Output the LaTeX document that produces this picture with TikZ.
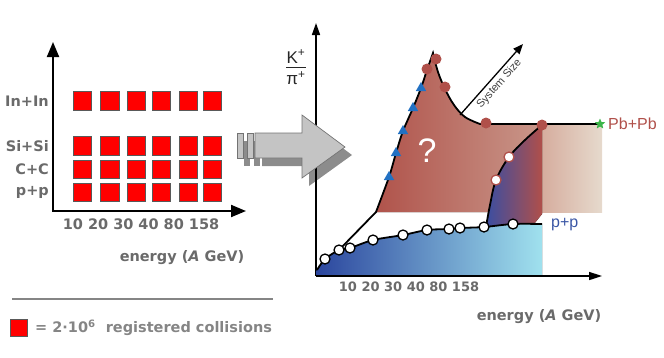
\documentclass[tikz,border=0pt]{standalone}
\usepackage{fontspec}
\setmainfont{DejaVu Sans}
\newfontfamily\lsans{Liberation Sans}
\usetikzlibrary{arrows.meta,shapes.geometric}
\definecolor{sqred}{HTML}{FF0000}
\definecolor{txtgrey}{HTML}{6A6A6A}
\definecolor{leggrey}{HTML}{858585}
\definecolor{redL}{HTML}{B0534B}
\definecolor{redR}{HTML}{C9978A}
\definecolor{begL}{HTML}{D6AD9E}
\definecolor{begR}{HTML}{E6DACD}
\definecolor{purL}{HTML}{3A4EA2}
\definecolor{purR}{HTML}{B04F4A}
\definecolor{bluL}{HTML}{2B469E}
\definecolor{bluM}{HTML}{5D8CCC}
\definecolor{bluR}{HTML}{A0E1EE}
\definecolor{dotred}{HTML}{B0504A}
\definecolor{tri}{HTML}{2271C3}
\definecolor{stargreen}{HTML}{3DB54A}
\definecolor{pptext}{HTML}{3A56A5}
\definecolor{arrlight}{HTML}{C4C4C4}
\definecolor{arrshadow}{HTML}{8C8C8C}
\begin{document}
\begin{tikzpicture}[x=1pt,y=-1pt,
  sq/.style={draw=black!65, line width=1pt, fill=sqred, minimum size=18.5pt, inner sep=0pt},
  lab/.style={text=txtgrey, font=\fontsize{14.5}{17}\selectfont\bfseries, inner sep=0pt},
  ticklab/.style={text=txtgrey, font=\fontsize{14.5}{17}\selectfont\bfseries, inner sep=0pt},
  laxis/.style={line width=2pt, {Triangle[length=15pt,width=12pt]}-{Triangle[length=15pt,width=12pt]}},
  raxis/.style={line width=1.6pt, {Triangle[length=12pt,width=8pt]}-{Triangle[length=12pt,width=8pt]}},
  curve/.style={line width=1.8pt, black},
  wdot/.style={circle, draw=black, line width=1.3pt, fill=white, minimum size=10pt, inner sep=0pt},
  pdot/.style={circle, draw=dotred, line width=1.3pt, fill=white, minimum size=10pt, inner sep=0pt},
  rdot/.style={circle, fill=dotred, minimum size=11pt, inner sep=0pt},
  tridot/.style={regular polygon, regular polygon sides=3, fill=tri, minimum size=12pt, inner sep=0pt},
]
\useasboundingbox (0,0) rectangle (664,357);

% ---------------- left panel ----------------
\coordinate (ly) at (53,42);
\coordinate (lo) at (53,211);
\coordinate (lx) at (246,211);
\draw[laxis] (ly) -- (lo) -- (lx);

\foreach \r/\y in {in/101, si/146, cc/169.5, pp/192.5}{
  \foreach \c/\x in {1/82.5, 2/110, 3/136.5, 4/161.5, 5/188.5, 6/212.5}{
    \node[sq] (s-\r-\c) at (\x,\y) {};
  }
}
\node[lab, anchor=east] (l-in) at (49,101) {In+In};
\node[lab, anchor=east] (l-si) at (49,146) {Si+Si};
\node[lab, anchor=east] (l-cc) at (49,169.5) {C+C};
\node[lab, anchor=east] (l-pp) at (49,192.5) {p+p};
\node[ticklab] (lticks) at (141,224) {10 20 30 40 80 158};
\node[lab] (lenergy) at (182,258) {energy (\textit{A} GeV)};

% legend
\coordinate (lg1) at (12,299);
\coordinate (lg2) at (273,299);
\draw[leggrey, line width=2pt] (lg1) -- (lg2);
\node[sq, minimum size=17.5pt] (legsq) at (19,328) {};
\node[lab, text=leggrey, anchor=west] (legtxt) at (35,328) {= 2·10\textsuperscript{6}\ \ registered collisions};

% ---------------- right axes ----------------
\coordinate (ry) at (316,23);
\coordinate (ro) at (316,276);
\coordinate (rx) at (602,276);

% ---------------- central arrow ----------------
\begin{scope}[shift={(7,8)}]
  \fill[arrshadow] (255,133) -- (302,133) -- (302,115) -- (345,147) -- (302,178) -- (302,158) -- (255,158) -- cycle;
  \fill[arrshadow] (237,133) rectangle (243,158);
  \fill[arrshadow] (247,133) rectangle (253,158);
\end{scope}
\draw[raxis, -{Triangle[length=12pt,width=8pt]}] (ro) -- (ry);
\draw[fill=arrlight, draw=black!55, line width=0.7pt] (255,133) -- (302,133) -- (302,115) -- (345,147) -- (302,178) -- (302,158) -- (255,158) -- cycle;
\draw[fill=arrlight, draw=black!55, line width=0.7pt] (237,133) rectangle (243,158);
\draw[fill=arrlight, draw=black!55, line width=0.7pt] (247,133) rectangle (253,158);

% ---------------- right panel regions ----------------
% Pb+Pb region
\fill[left color=redL, right color=redR]
  (376,212) -- plot[smooth, tension=0.5] coordinates {(376,212) (389,177) (396,153) (403,131) (413,108) (421,88) (427,70) (433,53)}
  -- plot[smooth, tension=0.6] coordinates {(433,53) (438,72) (445,89) (454,105) (465,117) (480,124)}
  -- (542,124) -- (542,212) -- cycle;
\fill[left color=begL, right color=begR] (542,124) rectangle (602,212);
% intermediate region
\fill[left color=purL, right color=purR]
  (486,227) -- plot[smooth, tension=0.6] coordinates {(486,227) (490,205) (496,180) (509,157) (525,140) (542,125)}
  -- (542,214) -- (534,224) -- cycle;
% p+p region
\fill[left color=bluL, middle color=bluM, right color=bluR]
  (316,276) -- (316,271) -- plot[smooth, tension=0.5] coordinates {(317,270) (325,259) (339,250) (350,248) (373,240) (403,235) (427,230) (449,229) (460,228) (484,227) (513,224) (542,224)}
  -- (542,276) -- cycle;

\draw[raxis, -{Triangle[length=13pt,width=8pt]}] (ro) -- (rx);

% curves
\draw[curve] plot[smooth, tension=0.5] coordinates {(317,270) (325,259) (339,250) (350,248) (373,240) (403,235) (427,230) (449,229) (460,228) (484,227) (513,224) (542,224)};
\draw[curve] (339,250) -- (376,212) -- plot[smooth, tension=0.5] coordinates {(376,212) (389,177) (396,153) (403,131) (413,108) (421,88) (427,70) (433,53)}
  -- plot[smooth, tension=0.6] coordinates {(433,53) (438,72) (445,89) (454,105) (465,117) (480,124)} -- (600,124);
\draw[curve] plot[smooth, tension=0.6] coordinates {(486,227) (490,205) (496,180) (509,157) (525,140) (542,125)};

% system size arrow
\coordinate (ss1) at (460,115);
\coordinate (ss2) at (523,44);
\draw[line width=1.3pt, -{Triangle[length=10pt,width=8pt]}] (ss1) -- node[sloped, below=3pt, pos=0.52, inner sep=0pt, font=\lsans\fontsize{11}{12}\selectfont, text=black!75] {System Size} (ss2);

% markers
\foreach \n/\p in {1/{(325,259)},2/{(339,250)},3/{(350,248)},4/{(373,240)},5/{(403,235)},6/{(427,230)},7/{(449,229)},8/{(460,228)},9/{(484,227)},10/{(513,224)}}{
  \node[wdot] (w\n) at \p {};
}
\node[pdot] (pd1) at (496,180) {};
\node[pdot] (pd2) at (509,157) {};
\foreach \n/\p in {1/{(389,177)},2/{(396,153)},3/{(403,131)},4/{(413,108)},5/{(421,88)}}{
  \node[tridot] (t\n) at \p {};
}
\node[rdot] (rd1) at (427,69) {};
\node[rdot] (rd2) at (436,59) {};
\node[rdot] (rd3) at (445,87) {};
\node[rdot] (rd4) at (486,123) {};
\node[rdot] (rd5) at (542,125) {};
\node[star, star points=5, star point ratio=2.2, fill=stargreen, minimum size=11pt, inner sep=0pt] (st) at (600,124) {};

% labels right
\node[text=white, font=\lsans\fontsize{34}{36}\selectfont, inner sep=0pt] (q) at (427,151) {?};
\node[anchor=west, text=dotred, font=\lsans\fontsize{16}{18}\selectfont, inner sep=0pt] (pbpb) at (608,124) {Pb+Pb};
\node[anchor=west, text=pptext, font=\lsans\fontsize{16}{18}\selectfont, inner sep=0pt] (pplab) at (551,225) {p+p};
\node[ticklab, font=\fontsize{13}{15}\selectfont\bfseries] (rticks) at (409,287) {10 20 30 40 80 158};
\node[lab] (renergy) at (539,317) {energy (\textit{A} GeV)};
\setlength{\arrayrulewidth}{1.4pt}
\node[font=\lsans\fontsize{17}{19}\selectfont, inner sep=0pt, text=black!85] (kpi) at (296,70)
  {\begin{tabular}{@{}c@{}}K\textsuperscript{+}\\[-2pt]\hline\rule{0pt}{16pt}π\textsuperscript{+}\end{tabular}};
\end{tikzpicture}
\end{document}
